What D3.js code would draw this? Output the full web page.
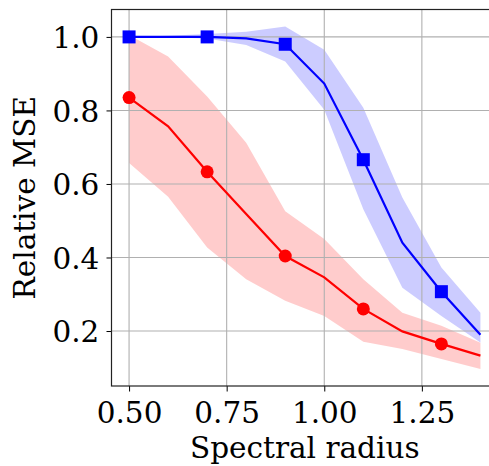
<!DOCTYPE html>
<html>
<head>
<meta charset="utf-8">
<script src="https://cdn.jsdelivr.net/npm/d3@7"></script>
<style>
  body { margin: 0; background: #fff; }
  text { font-family: "DejaVu Serif", serif; }
</style>
</head>
<body>
<script>
// spectral radius values
var radius = [0.5, 0.6, 0.7, 0.8, 0.9, 1.0, 1.1, 1.2, 1.3, 1.4];

// red series (circles)
var redMean  = [0.835, 0.757, 0.633, 0.518, 0.404, 0.346, 0.260, 0.199, 0.165, 0.133];
var redUpper = [1.005, 0.947, 0.838, 0.712, 0.526, 0.450, 0.341, 0.250, 0.214, 0.168];
var redLower = [0.657, 0.565, 0.427, 0.341, 0.282, 0.241, 0.171, 0.151, 0.124, 0.097];

// blue series (squares)
var blueMean  = [1.000, 1.000, 1.000, 0.996, 0.980, 0.873, 0.666, 0.440, 0.307, 0.190];
var blueUpper = [1.000, 1.003, 1.008, 1.014, 1.028, 0.965, 0.807, 0.563, 0.373, 0.250];
var blueLower = [1.000, 0.999, 0.996, 0.978, 0.933, 0.802, 0.531, 0.318, 0.241, 0.169];

var xTicks = [0.50, 0.75, 1.00, 1.25];
var yTicks = [0.2, 0.4, 0.6, 0.8, 1.0];

var width = 489, height = 466;
var margin = {top: 9.5, right: -9, bottom: 80, left: 111.5};
var fontSize = "29.5px";

var svg = d3.select("body").append("svg")
    .attr("width", width)
    .attr("height", height);

var xMin = d3.min(radius), xMax = d3.max(radius);
var xPad = (xMax - xMin) * 0.05;
var x = d3.scaleLinear()
    .domain([xMin - xPad, xMax + xPad])
    .range([margin.left, width - margin.right]);

var yMin = d3.min(redLower.concat(blueLower)), yMax = d3.max(redUpper.concat(blueUpper));
var yPad = (yMax - yMin) * 0.05;
var y = d3.scaleLinear()
    .domain([yMin - yPad, yMax + yPad])
    .range([height - margin.bottom, margin.top]);

var plot = svg.append("g");

// bands
var band = function (lo, hi) {
  return d3.area()
      .x(function (d, i) { return x(radius[i]); })
      .y0(function (d, i) { return y(lo[i]); })
      .y1(function (d, i) { return y(hi[i]); });
};

plot.append("path")
    .attr("d", band(redLower, redUpper)(radius))
    .attr("fill", "#ff0000")
    .attr("fill-opacity", 0.2);

plot.append("path")
    .attr("d", band(blueLower, blueUpper)(radius))
    .attr("fill", "#0000ff")
    .attr("fill-opacity", 0.2);

// grid
plot.selectAll(".gx").data(xTicks).enter().append("line")
    .attr("x1", function (d) { return x(d); })
    .attr("x2", function (d) { return x(d); })
    .attr("y1", y.range()[0])
    .attr("y2", y.range()[1])
    .attr("stroke", "#b0b0b0")
    .attr("stroke-width", 1.1);

plot.selectAll(".gy").data(yTicks).enter().append("line")
    .attr("y1", function (d) { return y(d); })
    .attr("y2", function (d) { return y(d); })
    .attr("x1", x.range()[0])
    .attr("x2", x.range()[1])
    .attr("stroke", "#b0b0b0")
    .attr("stroke-width", 1.1);

// lines
var line = function (vals) {
  return d3.line()
      .x(function (d, i) { return x(radius[i]); })
      .y(function (d, i) { return y(vals[i]); })(radius);
};

plot.append("path")
    .attr("d", line(redMean))
    .attr("fill", "none")
    .attr("stroke", "#ff0000")
    .attr("stroke-width", 2.2);

plot.append("path")
    .attr("d", line(blueMean))
    .attr("fill", "none")
    .attr("stroke", "#0000ff")
    .attr("stroke-width", 2.2);

// markers every other point
var marked = radius.map(function (r, i) { return i; }).filter(function (i) { return i % 2 === 0; });

plot.selectAll(".rc").data(marked).enter().append("circle")
    .attr("cx", function (i) { return x(radius[i]); })
    .attr("cy", function (i) { return y(redMean[i]); })
    .attr("r", 6.5)
    .attr("fill", "#ff0000");

var sq = 13;
plot.selectAll(".bs").data(marked).enter().append("rect")
    .attr("x", function (i) { return x(radius[i]) - sq / 2; })
    .attr("y", function (i) { return y(blueMean[i]) - sq / 2; })
    .attr("width", sq)
    .attr("height", sq)
    .attr("fill", "#0000ff");

// axes
var xAxis = d3.axisBottom(x)
    .tickValues(xTicks)
    .tickFormat(d3.format(".2f"))
    .tickSize(5.5);

var yAxis = d3.axisLeft(y)
    .tickValues(yTicks)
    .tickFormat(d3.format(".1f"))
    .tickSize(5);

var gx = svg.append("g")
    .attr("transform", "translate(0," + y.range()[0] + ")")
    .call(xAxis);

var gy = svg.append("g")
    .attr("transform", "translate(" + x.range()[0] + ",0)")
    .call(yAxis);

[gx, gy].forEach(function (g) {
  g.select(".domain").remove();
  g.selectAll(".tick line").attr("stroke", "#000").attr("stroke-width", 1);
  g.selectAll(".tick text")
      .attr("fill", "#000")
      .style("font-family", "DejaVu Serif")
      .style("font-size", fontSize);
});
gx.selectAll(".tick text").attr("y", 36.7).attr("dy", 0);
gy.selectAll(".tick text").attr("x", -12.2).attr("dy", "0.364em");

// spines
svg.append("rect")
    .attr("x", x.range()[0])
    .attr("y", y.range()[1])
    .attr("width", x.range()[1] - x.range()[0])
    .attr("height", y.range()[0] - y.range()[1])
    .attr("fill", "none")
    .attr("stroke", "#222")
    .attr("stroke-width", 1.2);

// axis labels
svg.append("text")
    .attr("x", (x.range()[0] + x.range()[1]) / 2)
    .attr("y", 458.3)
    .attr("text-anchor", "middle")
    .style("font-size", fontSize)
    .text("Spectral radius");

svg.append("text")
    .attr("transform", "translate(35," + (y.range()[0] + y.range()[1]) / 2 + ") rotate(-90)")
    .attr("text-anchor", "middle")
    .style("font-size", fontSize)
    .text("Relative MSE");
</script>
</body>
</html>
